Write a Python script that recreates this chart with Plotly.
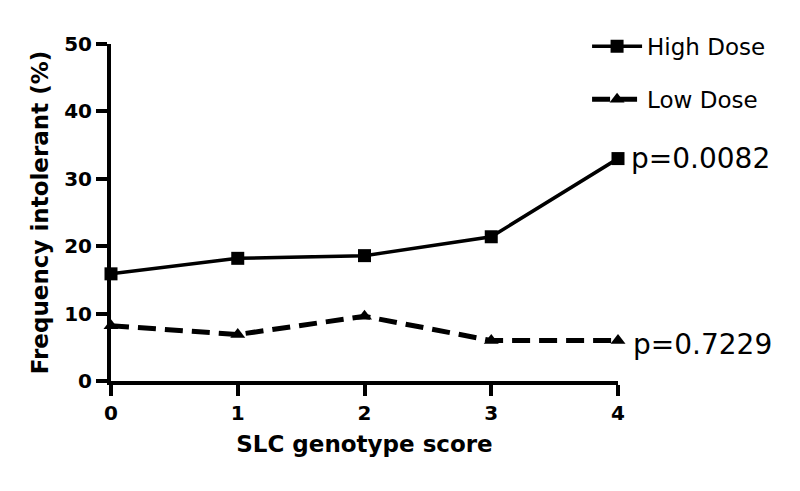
import plotly.graph_objects as go

scores = [0, 1, 2, 3, 4]
high_dose = [15.9, 18.2, 18.6, 21.4, 33.0]
low_dose = [8.2, 6.9, 9.6, 6.0, 6.0]
y_ticks = [0, 10, 20, 30, 40, 50]
p_high = "p=0.0082"
p_low = "p=0.7229"

FONT = "DejaVu Sans, Arial, sans-serif"

fig = go.Figure()
fig.add_trace(go.Scatter(
    x=scores, y=high_dose, mode="lines+markers", name="High Dose",
    line=dict(color="black", width=3.5),
    marker=dict(symbol="square", size=13, color="black"),
    cliponaxis=False, legendgroup="a",
))
fig.add_trace(go.Scatter(
    x=scores, y=low_dose, mode="lines+markers", name="Low Dose",
    line=dict(color="black", width=5, dash="18px,9px"),
    marker=dict(symbol="triangle-up", size=13, color="black"),
    cliponaxis=False, legendgroup="b",
))

fig.add_annotation(x=scores[-1], y=high_dose[-1], text=p_high, showarrow=False,
                   xanchor="left", yanchor="middle", xshift=11,
                   font=dict(family=FONT, size=28, color="black"))
fig.add_annotation(x=scores[-1], y=low_dose[-1], text=p_low, showarrow=False,
                   xanchor="left", yanchor="middle", xshift=13, yshift=-4,
                   font=dict(family=FONT, size=28, color="black"))

# page body has an 8px margin, so the figure is sized 792x483
fig.update_layout(
    width=792, height=483,
    margin=dict(l=102.5, r=182, t=36, b=109.5),
    paper_bgcolor="white", plot_bgcolor="white",
    font=dict(family=FONT, color="black"),
    legend=dict(x=0.939, y=1.057, xanchor="left", yanchor="top",
                font=dict(family=FONT, size=23, color="black"),
                itemwidth=50,
                tracegroupgap=20, traceorder="grouped",
                bgcolor="rgba(0,0,0,0)"),
    xaxis=dict(range=[0, 4], tickvals=scores, ticktext=[str(s) for s in scores],
               showline=True, linewidth=4, linecolor="black",
               ticks="outside", ticklen=11, tickwidth=4, tickcolor="black",
               showgrid=False, zeroline=False,
               tickfont=dict(family=FONT, size=20, color="black", weight="bold"),
               title=dict(text="<b>SLC genotype score</b>", standoff=13,
                          font=dict(family=FONT, size=23, color="black"))),
    yaxis=dict(range=[0, 50], tickvals=y_ticks,
               showline=True, linewidth=4, linecolor="black",
               ticks="outside", ticklen=11, tickwidth=4, tickcolor="black",
               showgrid=False, zeroline=False,
               tickfont=dict(family=FONT, size=20, color="black", weight="bold"),
               title=dict(text="<b>Frequency intolerant (%)</b>", standoff=10,
                          font=dict(family=FONT, size=23, color="black"))),
)

fig.write_html("out.html")
